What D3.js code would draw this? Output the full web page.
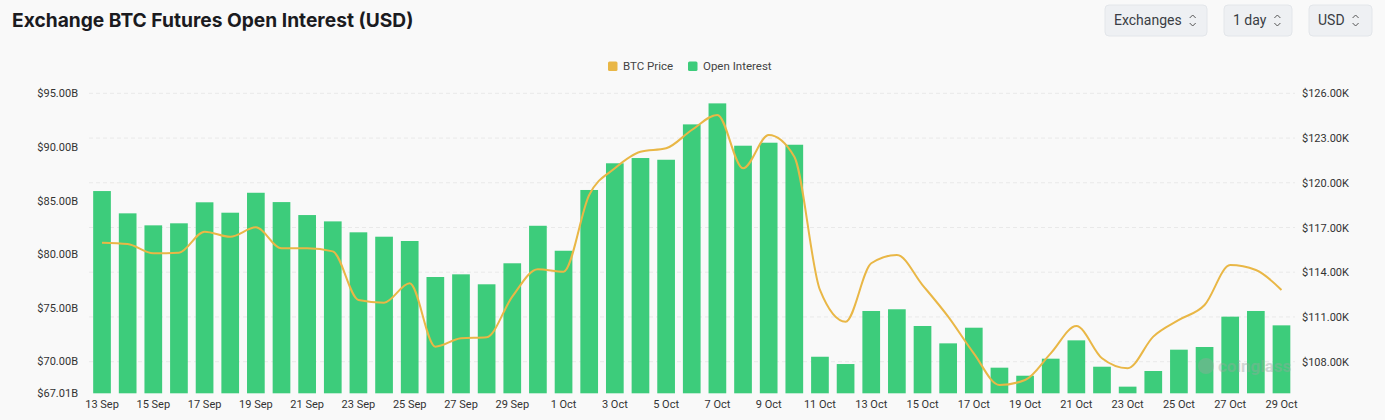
<!DOCTYPE html>
<html>
<head>
<meta charset="utf-8">
<script src="https://cdn.jsdelivr.net/npm/d3@7"></script>
<style>
  html, body { margin: 0; padding: 0; background: #f9f9f9; }
  svg { display: block; font-family: Roboto, "Noto Sans", sans-serif; }
</style>
</head>
<body>
<svg id="chart" width="1385" height="420"></svg>
<script>
// ---------- data ----------
const dates = [
  "13 Sep","14 Sep","15 Sep","16 Sep","17 Sep","18 Sep","19 Sep","20 Sep","21 Sep","22 Sep",
  "23 Sep","24 Sep","25 Sep","26 Sep","27 Sep","28 Sep","29 Sep","30 Sep",
  "1 Oct","2 Oct","3 Oct","4 Oct","5 Oct","6 Oct","7 Oct","8 Oct","9 Oct","10 Oct",
  "11 Oct","12 Oct","13 Oct","14 Oct","15 Oct","16 Oct","17 Oct","18 Oct","19 Oct","20 Oct",
  "21 Oct","22 Oct","23 Oct","24 Oct","25 Oct","26 Oct","27 Oct","28 Oct","29 Oct"
];
// Open interest, billions USD
const openInterest = [
  85.88, 83.80, 82.68, 82.87, 84.83, 83.86, 85.72, 84.85, 83.64, 83.05,
  82.03, 81.62, 81.22, 77.86, 78.11, 77.18, 79.14, 82.64,
  80.31, 85.98, 88.47, 88.96, 88.80, 92.10, 94.06, 90.11, 90.39, 90.20,
  70.42, 69.74, 74.69, 74.85, 73.29, 71.67, 73.13, 69.40, 68.65, 70.24,
  71.95, 69.49, 67.63, 69.09, 71.08, 71.33, 74.16, 74.69, 73.35
];
// BTC price, thousands USD
const btcPrice = [
  115.98, 115.89, 115.27, 115.31, 116.72, 116.38, 117.01, 115.60, 115.60, 115.40,
  112.14, 111.96, 113.26, 109.01, 109.57, 109.64, 112.36, 114.20,
  114.04, 119.18, 120.97, 122.08, 122.31, 123.54, 124.55, 120.97, 123.20, 121.75,
  112.81, 110.68, 114.60, 115.16, 113.14, 111.02, 108.56, 106.44, 106.77, 108.56,
  110.39, 108.23, 107.56, 109.68, 110.80, 111.80, 114.48, 114.15, 112.81
];
const leftTicks = [67.01, 70, 75, 80, 85, 90, 95];
const rightTicks = [108, 111, 114, 117, 120, 123, 126];
const leftDomain = [67.01, 95];
const rightDomain = [105.88, 126];
const legendItems = ["BTC Price", "Open Interest"];
const controls = ["Exchanges", "1 day", "USD"];

// ---------- styles ----------
const barColor = "#3dcc7b";
const lineColor = "#e9b746";

const svg = d3.select("#chart");

// title
svg.append("text")
  .attr("x", 12).attr("y", 27)
  .attr("font-family", "Inter, Roboto, sans-serif")
  .attr("font-size", 19.2).attr("font-weight", 700)
  .attr("fill", "#1b1b1f")
  .text("Exchange BTC Futures Open Interest (USD)");

// controls
const ctrlBoxes = [[1105, 102], [1224, 68], [1309, 63]];
controls.forEach((c, i) => {
  const [bx, bw] = ctrlBoxes[i];
  const g = svg.append("g").attr("transform", `translate(${bx},5)`);
  g.append("rect").attr("width", bw).attr("height", 31).attr("rx", 4)
    .attr("fill", "#eef0f3").attr("stroke", "#e3e6ea");
  const t = g.append("text").attr("x", 9).attr("y", 20)
    .attr("font-family", "Roboto, sans-serif")
    .attr("font-size", 14).attr("fill", "#3a3d44").text(c);
  const tw = t.node().getComputedTextLength();
  const ix = 9 + tw + 8;
  g.append("path")
    .attr("d", `M${ix},13 l3,-3 l3,3 M${ix},18 l3,3 l3,-3`)
    .attr("fill", "none").attr("stroke", "#555").attr("stroke-width", 1);
});

// scales
const x = d3.scaleBand().domain(dates).range([89.2, 1294.3]).paddingInner(0.31).paddingOuter(0.155);
const yL = d3.scaleLinear().domain(leftDomain).range([393.3, 93.3]);
const yR = d3.scaleLinear().domain(rightDomain).range([393.3, 93.3]);

// grid lines (right axis ticks)
svg.append("g").selectAll("line").data(rightTicks).join("line")
  .attr("x1", 89).attr("x2", 1295)
  .attr("y1", d => yR(d)).attr("y2", d => yR(d))
  .attr("stroke", "#e9e9e9").attr("stroke-dasharray", "4,3").attr("stroke-width", 1);

// left axis
const fmtL = d => "$" + d3.format(".2f")(d) + "B";
const axL = svg.append("g").attr("transform", "translate(78,0)")
  .call(d3.axisLeft(yL).tickValues(leftTicks).tickFormat(fmtL).tickSize(0).tickPadding(0));
axL.select(".domain").remove();
axL.selectAll("text").attr("font-size", 11).attr("fill", "#333")
  .attr("font-family", "Roboto, sans-serif");

// right axis
const fmtR = d => "$" + d3.format(".2f")(d) + "K";
const axR = svg.append("g").attr("transform", "translate(1302,0)")
  .call(d3.axisRight(yR).tickValues(rightTicks).tickFormat(fmtR).tickSize(0).tickPadding(0));
axR.select(".domain").remove();
axR.selectAll("text").attr("font-size", 11).attr("fill", "#333")
  .attr("font-family", "Roboto, sans-serif");

// bars
svg.append("g").selectAll("rect").data(dates).join("rect")
  .attr("x", d => x(d))
  .attr("width", x.bandwidth())
  .attr("y", (d, i) => yL(openInterest[i]))
  .attr("height", (d, i) => yL(leftDomain[0]) - yL(openInterest[i]))
  .attr("fill", barColor);

// watermark
const wm = svg.append("g").attr("opacity", 0.4);
wm.append("circle").attr("cx", 1206).attr("cy", 366).attr("r", 8).attr("fill", "#9aa6a0");
wm.append("text").attr("x", 1218).attr("y", 372).attr("font-size", 17).attr("font-weight", 700)
  .attr("fill", "#9aa6a0").attr("font-family", "Roboto, sans-serif").text("coinglass");

// price line
const line = d3.line()
  .x((d, i) => x(dates[i]) + x.bandwidth() / 2)
  .y(d => yR(d))
  .curve(d3.curveMonotoneX);
svg.append("path").datum(btcPrice)
  .attr("d", line).attr("fill", "none")
  .attr("stroke", lineColor).attr("stroke-width", 2);

// x axis labels
const axX = svg.append("g").attr("transform", "translate(0,400)")
  .call(d3.axisBottom(x).tickValues(dates.filter((d, i) => i % 2 === 0)).tickSize(0).tickPadding(0));
axX.select(".domain").remove();
axX.selectAll("text").attr("font-size", 11).attr("fill", "#333")
  .attr("font-family", "Roboto, sans-serif");

// legend
const legColors = [lineColor, barColor];
const legX = [608, 688];
legendItems.forEach((name, i) => {
  svg.append("rect").attr("x", legX[i]).attr("y", 61.5).attr("width", 9.5).attr("height", 9.5)
    .attr("rx", 1.5).attr("fill", legColors[i]);
  svg.append("text").attr("x", legX[i] + 15).attr("y", 70).attr("font-size", 11.5)
    .attr("fill", "#444").attr("font-family", "Roboto, sans-serif").text(name);
});
</script>
</body>
</html>
